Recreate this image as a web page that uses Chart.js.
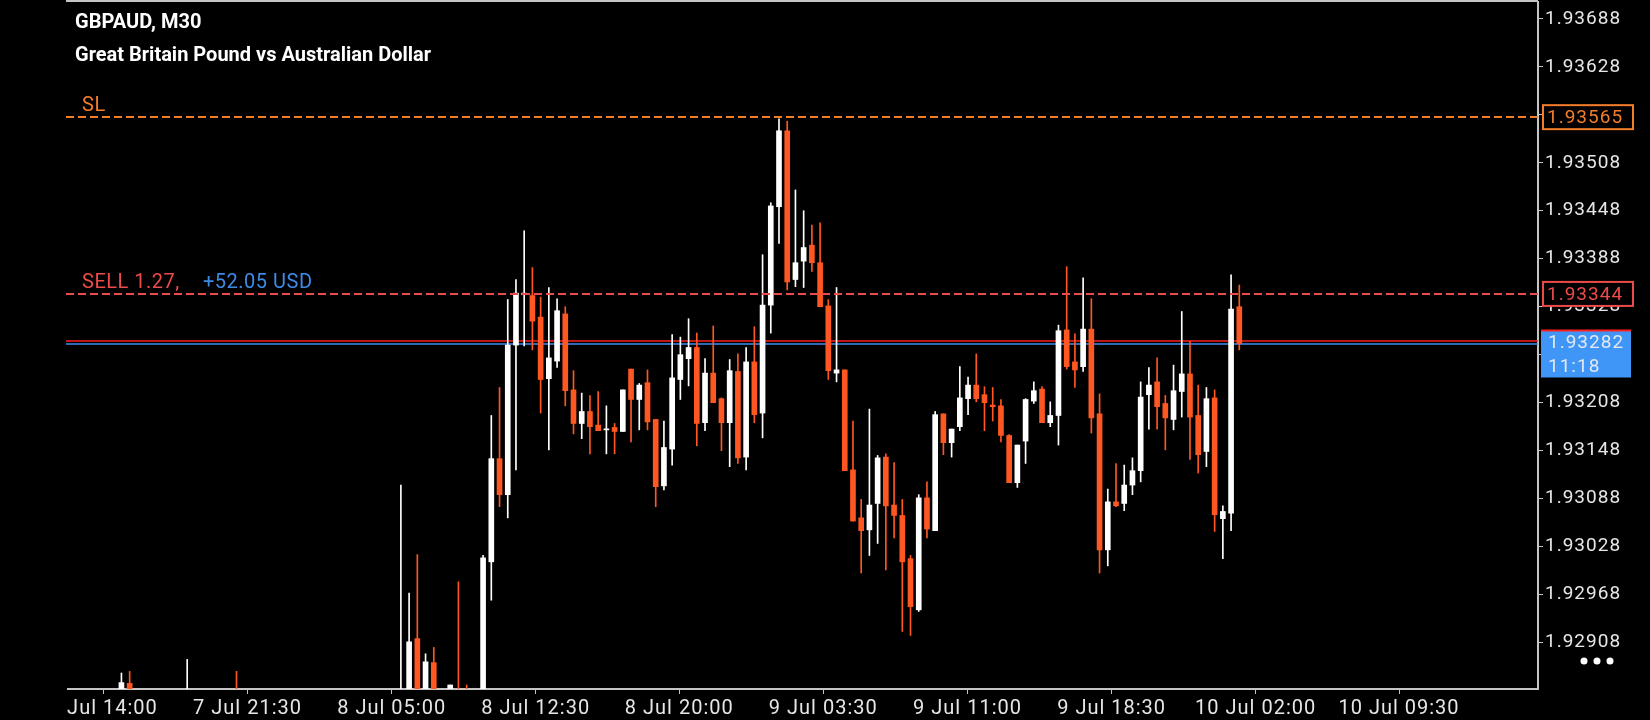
<!DOCTYPE html>
<html lang="en">
<head>
<meta charset="UTF-8">
<title>GBPAUD, M30</title>
<script src="https://cdn.jsdelivr.net/npm/chart.js"></script>
<style>
    html, body { margin: 0; padding: 0; background: #000; }
    body { width: 1650px; height: 720px; position: relative; overflow: hidden; }
    #chart { position: absolute; left: 66px; top: 0; }
    .title {
        position: absolute; left: 75px; top: 5px; z-index: 2;
        color: #fff; font: bold 20px/33px Roboto, sans-serif;
    }
</style>
</head>
<body>
<div class="title">GBPAUD, M30<br>Great Britain Pound vs Australian Dollar</div>
<canvas id="chart" width="1584" height="720"></canvas>
<script>
// bar slot (one per 30 min bar, 0 = first bar of the 8 Jul rally)
const slots = [-45, -44, -37, -31, -11, -10, -9, -8, -7, -5, -4, -3, -1,
    0, 1, 2, 3, 4, 5, 6, 7, 8, 9, 10, 11, 12, 13, 14, 15, 16, 17, 18, 19,
    20, 21, 22, 23, 24, 25, 26, 27, 28, 29, 30, 31, 32, 33, 34, 35, 36, 37, 38, 39,
    40, 41, 42, 43, 44, 45, 46, 47, 48, 49, 50, 51, 52, 53, 54, 55, 56, 57, 58, 59,
    60, 61, 62, 63, 64, 65, 66, 67, 68, 69, 70, 71, 72, 73, 74, 75, 76, 77, 78, 79,
    80, 81, 82, 83, 84, 85, 86, 87, 88, 89, 90, 91];

const opens = [1.92840, 1.92857, 1.92820, 1.92835, 1.92810, 1.92830, 1.92913, 1.92835, 1.92883, 1.92845, 1.92845, 1.92845, 1.92840,
    1.93009, 1.93138, 1.93093, 1.93280, 1.93343, 1.93342, 1.93315, 1.93238, 1.93260, 1.93319,
    1.93224, 1.93182, 1.93197, 1.93180, 1.93174, 1.93177, 1.93172, 1.93250, 1.93212, 1.93233,
    1.93187, 1.93104, 1.93150, 1.93237, 1.93263, 1.93277, 1.93183, 1.93245, 1.93213, 1.93183,
    1.93247, 1.93140, 1.93259, 1.93195, 1.93330, 1.93453, 1.93548, 1.93362, 1.93385, 1.93405,
    1.93383, 1.93329, 1.93245, 1.93249, 1.93124, 1.93064, 1.93049, 1.93082, 1.93140, 1.93080,
    1.93067, 1.93013, 1.92949, 1.93089, 1.93048, 1.93194, 1.93158, 1.93178, 1.93213, 1.93230,
    1.93218, 1.93205, 1.93204, 1.93167, 1.93108, 1.93160, 1.93210, 1.93225, 1.93183, 1.93192,
    1.93299, 1.93259, 1.93253, 1.93300, 1.93194, 1.93024, 1.93084, 1.93082, 1.93105, 1.93123,
    1.93218, 1.93234, 1.93207, 1.93187, 1.93222, 1.93244, 1.93192, 1.93147, 1.93214, 1.93063,
    1.93070, 1.93328];
const highs = [1.92870, 1.92872, 1.92887, 1.92872, 1.93105, 1.92970, 1.93018, 1.92894, 1.92902, 1.92855, 1.92984, 1.92855, 1.93017,
    1.93192, 1.93227, 1.93337, 1.93362, 1.93423, 1.93377, 1.93340, 1.93352, 1.93338, 1.93328,
    1.93248, 1.93220, 1.93217, 1.93222, 1.93204, 1.93182, 1.93224, 1.93250, 1.93232, 1.93249,
    1.93187, 1.93185, 1.93293, 1.93290, 1.93313, 1.93295, 1.93263, 1.93304, 1.93214, 1.93262,
    1.93269, 1.93277, 1.93303, 1.93393, 1.93458, 1.93563, 1.93560, 1.93474, 1.93448, 1.93430,
    1.93433, 1.93337, 1.93352, 1.93249, 1.93185, 1.93087, 1.93200, 1.93142, 1.93144, 1.93133,
    1.93087, 1.93017, 1.93093, 1.93109, 1.93197, 1.93194, 1.93175, 1.93253, 1.93240, 1.93269,
    1.93228, 1.93227, 1.93212, 1.93168, 1.93155, 1.93213, 1.93234, 1.93228, 1.93209, 1.93305,
    1.93378, 1.93294, 1.93364, 1.93338, 1.93219, 1.93100, 1.93132, 1.93130, 1.93139, 1.93234,
    1.93252, 1.93264, 1.93217, 1.93255, 1.93322, 1.93285, 1.93230, 1.93227, 1.93224, 1.93079,
    1.93368, 1.93355];
const lows = [1.92830, 1.92825, 1.92810, 1.92810, 1.92800, 1.92820, 1.92825, 1.92830, 1.92835, 1.92840, 1.92835, 1.92835, 1.92835,
    1.92961, 1.93078, 1.93064, 1.93124, 1.93279, 1.93274, 1.93195, 1.93149, 1.93252, 1.93204,
    1.93169, 1.93163, 1.93144, 1.93173, 1.93144, 1.93144, 1.93172, 1.93159, 1.93174, 1.93174,
    1.93078, 1.93099, 1.93130, 1.93212, 1.93229, 1.93154, 1.93173, 1.93208, 1.93148, 1.93128,
    1.93132, 1.93124, 1.93183, 1.93164, 1.93295, 1.93407, 1.93349, 1.93353, 1.93352, 1.93372,
    1.93328, 1.93237, 1.93234, 1.93123, 1.93060, 1.92995, 1.93017, 1.93032, 1.92999, 1.93039,
    1.92922, 1.92917, 1.92947, 1.93039, 1.93048, 1.93143, 1.93140, 1.93173, 1.93193, 1.93209,
    1.93173, 1.93185, 1.93159, 1.93108, 1.93102, 1.93132, 1.93207, 1.93183, 1.93178, 1.93155,
    1.93250, 1.93227, 1.93247, 1.93170, 1.92995, 1.93004, 1.93078, 1.93073, 1.93093, 1.93109,
    1.93175, 1.93175, 1.93149, 1.93174, 1.93190, 1.93137, 1.93120, 1.93128, 1.93047, 1.93013,
    1.93048, 1.93274];
const closes = [1.92858, 1.92835, 1.92835, 1.92820, 1.92830, 1.92909, 1.92835, 1.92884, 1.92840, 1.92855, 1.92840, 1.92840, 1.93014,
    1.93138, 1.93093, 1.93280, 1.93345, 1.93345, 1.93310, 1.93237, 1.93264, 1.93323, 1.93223,
    1.93182, 1.93197, 1.93178, 1.93173, 1.93175, 1.93172, 1.93224, 1.93212, 1.93230, 1.93184,
    1.93103, 1.93152, 1.93239, 1.93268, 1.93277, 1.93182, 1.93245, 1.93208, 1.93183, 1.93248,
    1.93139, 1.93259, 1.93193, 1.93330, 1.93454, 1.93548, 1.93359, 1.93383, 1.93402, 1.93383,
    1.93328, 1.93248, 1.93249, 1.93123, 1.93060, 1.93048, 1.93080, 1.93139, 1.93079, 1.93067,
    1.93009, 1.92953, 1.93089, 1.93050, 1.93193, 1.93158, 1.93175, 1.93214, 1.93230, 1.93213,
    1.93208, 1.93203, 1.93167, 1.93108, 1.93155, 1.93212, 1.93223, 1.93183, 1.93192, 1.93298,
    1.93253, 1.93249, 1.93300, 1.93189, 1.93024, 1.93084, 1.93079, 1.93105, 1.93123, 1.93215,
    1.93230, 1.93203, 1.93189, 1.93223, 1.93244, 1.93190, 1.93143, 1.93213, 1.93068, 1.93072,
    1.93325, 1.93282];

const timeLabels = ['7 Jul 14:00', '7 Jul 21:30', '8 Jul 05:00', '8 Jul 12:30', '8 Jul 20:00',
    '9 Jul 03:30', '9 Jul 11:00', '9 Jul 18:30', '10 Jul 02:00', '10 Jul 09:30'];
const timeSlots = [-47.20, -29.66, -12.12, 5.40, 22.87, 40.39, 57.94, 75.47, 92.99, 110.43];
const priceTicks = [1.92908, 1.92968, 1.93028, 1.93088, 1.93148, 1.93208, 1.93268,
    1.93328, 1.93388, 1.93448, 1.93508, 1.93568, 1.93628, 1.93688];

const slPrice = 1.93565;
const sellPrice = 1.93344;
const askPrice = 1.93285;
const bidPrice = 1.93282;
const sellText = 'SELL 1.27,';
const profitText = '+52.05 USD';
const clockText = '11:18';

const BULL = '#ffffff';
const BEAR = '#ff5722';
const AXIS = '#c4c4c4';
const TEXT = '#e6e6e6';

function candleColor(c) {
    const k = c.dataIndex;
    return closes[k] >= opens[k] ? BULL : BEAR;
}

const overlay = {
    id: 'overlay',
    beforeUpdate(chart) { chart.ctx.letterSpacing = '1px'; },
    beforeDraw(chart) { chart.ctx.letterSpacing = '1px'; },
    beforeDatasetsDraw(chart) {
        const { ctx, chartArea: a, scales: { y } } = chart;
        ctx.save();
        ctx.strokeStyle = AXIS;
        ctx.lineWidth = 2;
        ctx.beginPath();
        ctx.moveTo(a.left - 2, a.top - 1);
        ctx.lineTo(a.right, a.top - 1);
        ctx.stroke();
        [[askPrice, '#ff1f1f'], [bidPrice, '#3f8ef5']].forEach(([p, col]) => {
            const py = Math.round(y.getPixelForValue(p));
            ctx.strokeStyle = col;
            ctx.lineWidth = 1.5;
            ctx.beginPath();
            ctx.moveTo(a.left - 2, py);
            ctx.lineTo(a.right, py);
            ctx.stroke();
        });
        ctx.restore();
    },
    afterDatasetsDraw(chart) {
        const { ctx, chartArea: a, scales: { y } } = chart;
        ctx.save();
        ctx.setLineDash([8, 4]);
        ctx.lineWidth = 2;
        ctx.font = '20px Roboto';
        ctx.letterSpacing = '0.5px';
        ctx.textBaseline = 'alphabetic';
        const slY = Math.round(y.getPixelForValue(slPrice));
        ctx.strokeStyle = '#f47d2a';
        ctx.beginPath(); ctx.moveTo(a.left - 2, slY); ctx.lineTo(a.right, slY); ctx.stroke();
        ctx.fillStyle = '#f47d2a';
        ctx.fillText('SL', a.left + 14, slY - 6);

        const sellY = Math.round(y.getPixelForValue(sellPrice));
        ctx.strokeStyle = '#ec4b4b';
        ctx.beginPath(); ctx.moveTo(a.left - 2, sellY); ctx.lineTo(a.right, sellY); ctx.stroke();
        ctx.fillStyle = '#ec4b4b';
        ctx.fillText(sellText, a.left + 14, sellY - 6);
        ctx.fillStyle = '#3d8be6';
        ctx.fillText(profitText, a.left + 135, sellY - 6);
        ctx.restore();
    },
    afterDraw(chart) {
        const { ctx, chartArea: a, scales: { y } } = chart;
        ctx.save();
        ctx.font = '19px Roboto';
        ctx.letterSpacing = '1px';
        ctx.textBaseline = 'middle';
        const bx = a.right + 5;
        const bw = 90;
        [[slPrice, '#f47d2a'], [sellPrice, '#ec4b4b']].forEach(([p, col]) => {
            const py = y.getPixelForValue(p);
            ctx.fillStyle = '#000';
            ctx.fillRect(bx, py - 12, bw, 24);
            ctx.strokeStyle = col;
            ctx.lineWidth = 2;
            ctx.strokeRect(bx, py - 12, bw, 24);
            ctx.fillStyle = col;
            ctx.fillText(p.toFixed(5), bx + 4, py + 1);
        });
        const by = y.getPixelForValue(bidPrice);
        ctx.fillStyle = '#3f96f7';
        ctx.fillRect(a.right + 3, by - 13, bw, 47);
        ctx.fillStyle = '#ff1f1f';
        ctx.fillRect(a.right + 3, by - 14, bw, 2);
        ctx.fillStyle = '#e4e8ee';
        ctx.fillText(bidPrice.toFixed(5), a.right + 10, by);
        ctx.fillText(clockText, a.right + 10, by + 24);

        ctx.fillStyle = '#fff';
        [a.right + 46, a.right + 59, a.right + 72].forEach(cx => {
            ctx.beginPath();
            ctx.arc(cx, 661, 3.5, 0, Math.PI * 2);
            ctx.fill();
        });
        ctx.restore();
    }
};

new Chart(document.getElementById('chart'), {
    type: 'bar',
    data: {
        datasets: [{
            label: 'body',
            data: slots.map((s, k) => ({ x: s, y: [opens[k], closes[k]] })),
            backgroundColor: candleColor,
            barThickness: 5,
            minBarLength: 1,
            grouped: false,
            borderWidth: 0
        }, {
            label: 'wick',
            data: slots.map((s, k) => ({ x: s, y: [lows[k], highs[k]] })),
            backgroundColor: candleColor,
            barThickness: 1,
            grouped: false,
            borderWidth: 0
        }]
    },
    options: {
        responsive: false,
        animation: false,
        devicePixelRatio: 1,
        layout: { padding: { left: 2, top: 2, right: 0, bottom: 0 } },
        plugins: { legend: { display: false }, tooltip: { enabled: false } },
        scales: {
            x: {
                type: 'linear',
                min: -51.5,
                max: 127.34,
                offset: false,
                grid: { drawOnChartArea: false, offset: false, tickLength: 5, color: AXIS, lineWidth: 1 },
                border: { color: AXIS, width: 2 },
                ticks: {
                    color: TEXT,
                    font: { family: 'Roboto', size: 20 },
                    padding: 3,
                    maxRotation: 0,
                    autoSkip: false,
                    callback: (v, i) => timeLabels[i]
                },
                afterBuildTicks: axis => { axis.ticks = timeSlots.map(v => ({ value: v })); },
                afterFit: axis => { axis.height = 31; axis.paddingLeft = 0; axis.paddingRight = 0; }
            },
            y: {
                position: 'right',
                min: 1.92850,
                max: 1.93709,
                grid: { drawOnChartArea: false, tickLength: 5, color: AXIS, lineWidth: 1 },
                border: { color: AXIS, width: 2 },
                ticks: {
                    color: TEXT,
                    font: { family: 'Roboto', size: 19 },
                    padding: 2,
                    callback: v => v.toFixed(5)
                },
                afterBuildTicks: axis => { axis.ticks = priceTicks.map(v => ({ value: v })); },
                afterFit: axis => { axis.width = 112; axis.paddingTop = 0; axis.paddingBottom = 0; }
            }
        }
    },
    plugins: [overlay]
});
</script>
</body>
</html>
